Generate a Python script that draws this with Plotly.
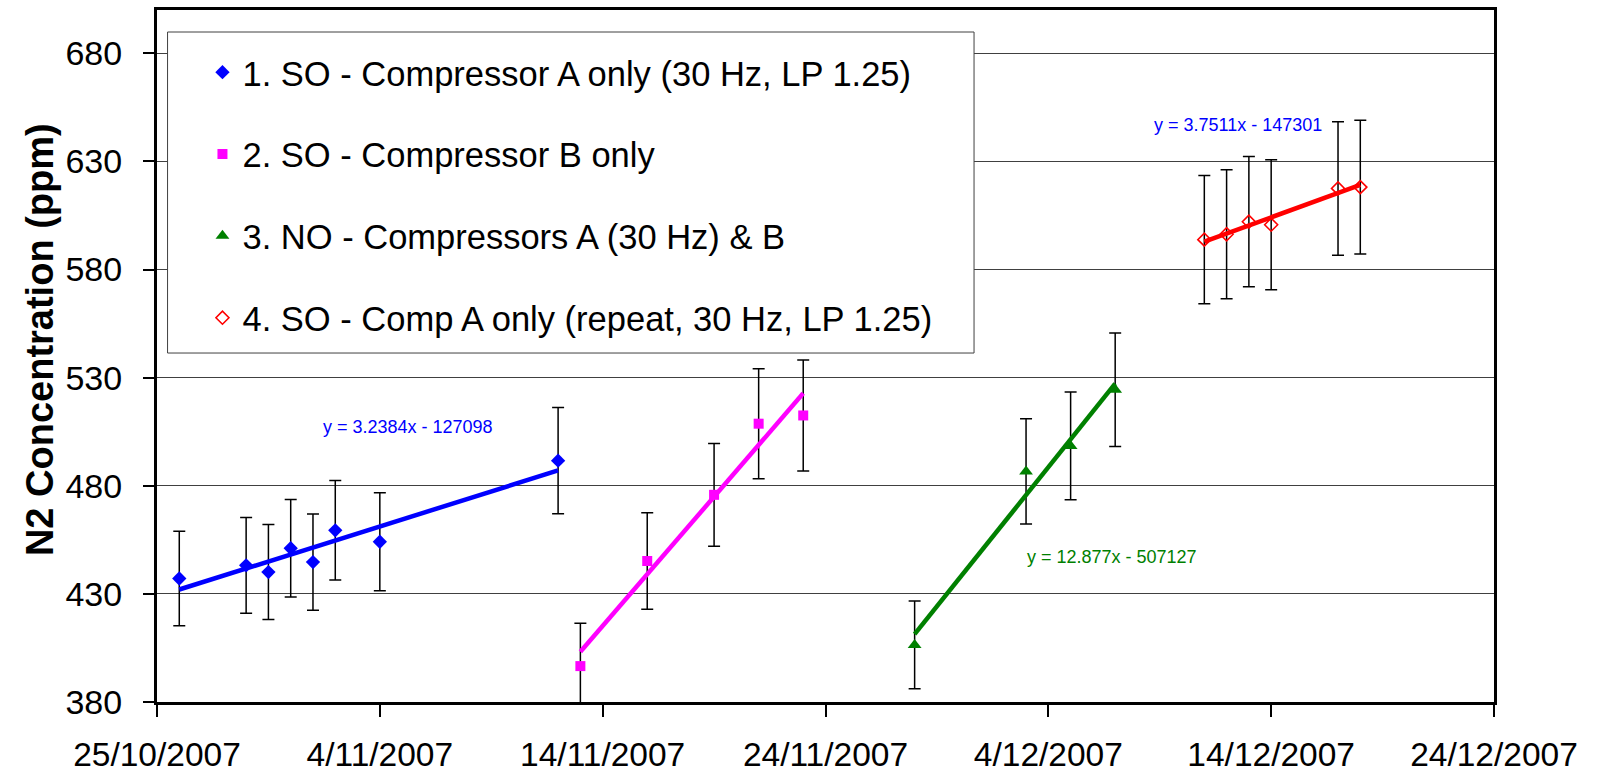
import numpy as np
import pandas as pd
import plotly.graph_objects as go

# ---- data -------------------------------------------------------------
so_a_dates = ["2007-10-26", "2007-10-29", "2007-10-30", "2007-10-31",
              "2007-11-01", "2007-11-02", "2007-11-04", "2007-11-12"]
so_a_n2 = [437.1, 443.2, 440.1, 451.1, 444.7, 459.4, 454.1, 491.6]

so_b_dates = ["2007-11-13", "2007-11-16", "2007-11-19", "2007-11-21", "2007-11-23"]
so_b_n2 = [396.6, 445.2, 475.8, 508.7, 512.5]

no_ab_dates = ["2007-11-28", "2007-12-03", "2007-12-05", "2007-12-07"]
no_ab_n2 = [406.4, 486.6, 498.4, 524.4]

so_a_rep_dates = ["2007-12-11", "2007-12-12", "2007-12-13", "2007-12-14",
                  "2007-12-17", "2007-12-18"]
so_a_rep_n2 = [593.8, 596.3, 602.1, 600.7, 617.5, 618.1]

series_names = [
    "1. SO - Compressor A only (30 Hz, LP 1.25)",
    "2. SO - Compressor B only",
    "3. NO - Compressors A (30 Hz) & B",
    "4. SO - Comp A only (repeat, 30 Hz, LP 1.25)",
]

# fitted trendline equations (x = spreadsheet date serial)
eq_slopes = {"blue": 3.2384, "green": 12.877, "red": 3.7511}
eq_intercepts = {"blue": -127098, "green": -507127, "red": -147301}

error_pct = 5

tick_dates = ["2007-10-25", "2007-11-04", "2007-11-14", "2007-11-24",
              "2007-12-04", "2007-12-14", "2007-12-24"]
tick_labels = ["25/10/2007", "4/11/2007", "14/11/2007", "24/11/2007",
               "4/12/2007", "14/12/2007", "24/12/2007"]
y_ticks = [380, 430, 480, 530, 580, 630, 680]
y_title = "N2 Concentration (ppm)"

FONT = "Liberation Sans, Arial, sans-serif"
EPOCH = pd.Timestamp("1899-12-30")


def serial(dates):
    return np.array([(pd.Timestamp(d) - EPOCH).days for d in dates], dtype=float)


def trend_ends(dates, values, slope=None):
    """Least-squares line across the span of the series."""
    x = serial(dates)
    y = np.asarray(values, dtype=float)
    if slope is None:
        slope, icpt = np.polyfit(x, y, 1)
    else:
        icpt = y.mean() - slope * x.mean()
    xs = np.array([x.min(), x.max()])
    ends = [EPOCH + pd.Timedelta(days=v) for v in xs]
    return ends, slope * xs + icpt


fig = go.Figure()

marker_specs = [
    (so_a_dates, so_a_n2, "#0000FF", dict(symbol="diamond", size=11)),
    (so_b_dates, so_b_n2, "#FF00FF", dict(symbol="square", size=10)),
    (no_ab_dates, no_ab_n2, "#008000", dict(symbol="triangle-up", size=12)),
    (so_a_rep_dates, so_a_rep_n2, "#FF0000",
     dict(symbol="diamond-open", size=10, line=dict(width=1.6, color="#FF0000"))),
]

for i, (d, v, col, mk) in enumerate(marker_specs):
    fig.add_trace(go.Scatter(
        x=d, y=v, mode="markers", name=series_names[i],
        legendgroup=f"g{i}", cliponaxis=False,
        marker=dict(color=col, **mk),
        error_y=dict(type="percent", value=error_pct, color="black",
                     thickness=1.5, width=6),
    ))

trend_specs = [
    (so_a_dates, so_a_n2, "#0000FF", eq_slopes["blue"]),
    (so_b_dates, so_b_n2, "#FF00FF", None),
    (no_ab_dates, no_ab_n2, "#008000", eq_slopes["green"]),
    (so_a_rep_dates, so_a_rep_n2, "#FF0000", eq_slopes["red"]),
]
for d, v, col, s in trend_specs:
    xe, ye = trend_ends(d, v, s)
    fig.add_trace(go.Scatter(x=xe, y=ye, mode="lines", showlegend=False,
                             line=dict(color=col, width=4.5), hoverinfo="skip"))


def eq_text(key):
    return f"y = {eq_slopes[key]}x - {abs(eq_intercepts[key])}"


annos = [
    dict(x="2007-11-05 06:00", y=507, text=eq_text("blue"), font_color="#0000FF"),
    dict(x="2007-12-12 12:00", y=646.7, text=eq_text("red"), font_color="#0000FF"),
    dict(x="2007-12-06 21:00", y=447, text=eq_text("green"), font_color="#008000"),
]
for a in annos:
    fig.add_annotation(x=a["x"], y=a["y"], text=a["text"], showarrow=False,
                       xref="x", yref="y",
                       font=dict(family=FONT, size=18, color=a["font_color"]))

# rotated value-axis title
fig.add_annotation(x=-0.0875, y=0.523, xref="paper", yref="paper",
                   text=f"<b>{y_title}</b>", textangle=-90, showarrow=False,
                   xanchor="center", yanchor="middle",
                   font=dict(family=FONT, size=38, color="black"))

# legend frame (white panel that hides the gridlines behind it)
fig.add_shape(type="rect", xref="paper", yref="paper",
              x0=0.0079, x1=0.6111, y0=0.5043, y1=0.9682,
              line=dict(color="#404040", width=1), fillcolor="white", layer="above")

fig.update_layout(
    width=1602, height=775,
    margin=dict(l=157, r=108, t=10, b=73),
    paper_bgcolor="white", plot_bgcolor="white",
    font=dict(family=FONT, color="black", size=34),
    showlegend=True,
    legend=dict(
        x=0.034, y=0.952, xanchor="left", yanchor="top",
        bgcolor="rgba(0,0,0,0)", borderwidth=0,
        font=dict(family=FONT, size=34.5, color="black"),
        tracegroupgap=34, itemsizing="trace",
    ),
    xaxis=dict(
        type="date", range=["2007-10-25", "2007-12-24"],
        tickmode="array", tickvals=tick_dates, ticktext=tick_labels,
        showgrid=False, zeroline=False, automargin=False,
        showline=True, linecolor="black", linewidth=3, mirror=True,
        ticks="outside", ticklen=12, tickwidth=1.5, tickcolor="black",
        ticklabelstandoff=9,
        tickfont=dict(family=FONT, size=33.5, color="black"),
    ),
    yaxis=dict(
        range=[380, 700], tickmode="array", tickvals=y_ticks,
        showgrid=True, gridcolor="#404040", gridwidth=1, zeroline=False,
        automargin=False,
        showline=True, linecolor="black", linewidth=3, mirror=True,
        ticks="outside", ticklen=11, tickwidth=1.5, tickcolor="black",
        ticklabelstandoff=14,
        tickfont=dict(family=FONT, size=34, color="black"),
    ),
)

fig.write_html("out.html")
